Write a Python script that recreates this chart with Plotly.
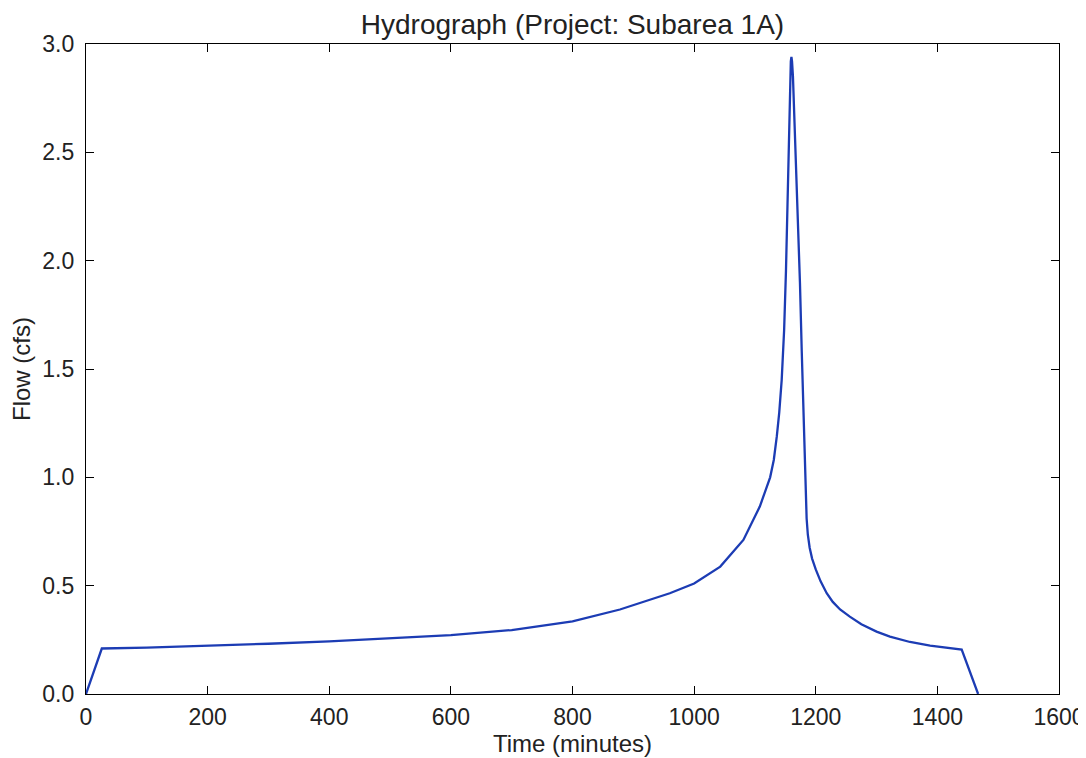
import plotly.graph_objects as go

time_min = [0, 26, 100, 200, 300, 400, 500, 600, 700, 800, 878, 960, 1000,
            1043, 1081, 1108, 1125, 1131, 1136, 1140, 1144, 1148, 1151, 1154,
            1156, 1157.5, 1159, 1160, 1161, 1162.5, 1165, 1168, 1171, 1174, 1177,
            1179.5, 1181.5, 1183, 1185, 1187, 1190, 1194, 1200, 1208, 1218, 1228,
            1240, 1256, 1275, 1300, 1322, 1355, 1388, 1440, 1467]
flow_cfs = [0.0, 0.21, 0.214, 0.222, 0.232, 0.243, 0.256, 0.272, 0.295, 0.335, 0.39,
            0.465, 0.51, 0.588, 0.711, 0.865, 1.0, 1.08, 1.19, 1.30, 1.45, 1.68,
            1.95, 2.3, 2.6, 2.8, 2.92, 2.94, 2.92, 2.85, 2.65, 2.45, 2.2, 1.9, 1.58,
            1.3, 1.08, 0.93, 0.81, 0.735, 0.675, 0.625, 0.575, 0.52, 0.465, 0.425,
            0.39, 0.357, 0.322, 0.288, 0.265, 0.24, 0.223, 0.205, 0.0]

x_ticks = [0, 200, 400, 600, 800, 1000, 1200, 1400, 1600]
y_ticks = [0.0, 0.5, 1.0, 1.5, 2.0, 2.5, 3.0]

font = "Liberation Sans, Arial, sans-serif"

fig = go.Figure()
fig.add_trace(go.Scatter(x=time_min, y=flow_cfs, mode="lines",
                         line=dict(color="#1c3cb4", width=2.3), showlegend=False))

axis_common = dict(showline=True, linecolor="black", linewidth=1.3, mirror="ticks",
                   ticks="inside", ticklen=8, tickwidth=1, tickcolor="black",
                   showgrid=False, zeroline=False, automargin=False,
                   ticklabeloverflow="allow",
                   tickfont=dict(family=font, size=23, color="#222"))

fig.update_xaxes(range=[0, 1600], tickvals=x_ticks, ticklabelstandoff=2,
                 title=dict(text="Time (minutes)", font=dict(family=font, size=24, color="#222"), standoff=6),
                 **axis_common)
fig.update_yaxes(range=[0, 3.0], tickvals=y_ticks, tickformat=".1f", ticklabelstandoff=6,
                 title=dict(text="Flow (cfs)", font=dict(family=font, size=24, color="#222"), standoff=10),
                 **axis_common)

fig.update_layout(
    width=1086, height=758,
    margin=dict(l=78, r=35, t=36, b=72),
    paper_bgcolor="white", plot_bgcolor="white",
    title=dict(text="Hydrograph (Project: Subarea 1A)", x=0.5, xanchor="center",
               xref="paper", y=0.979, yanchor="middle",
               font=dict(family=font, size=28, color="#222")),
)

fig.write_html("out.html")
